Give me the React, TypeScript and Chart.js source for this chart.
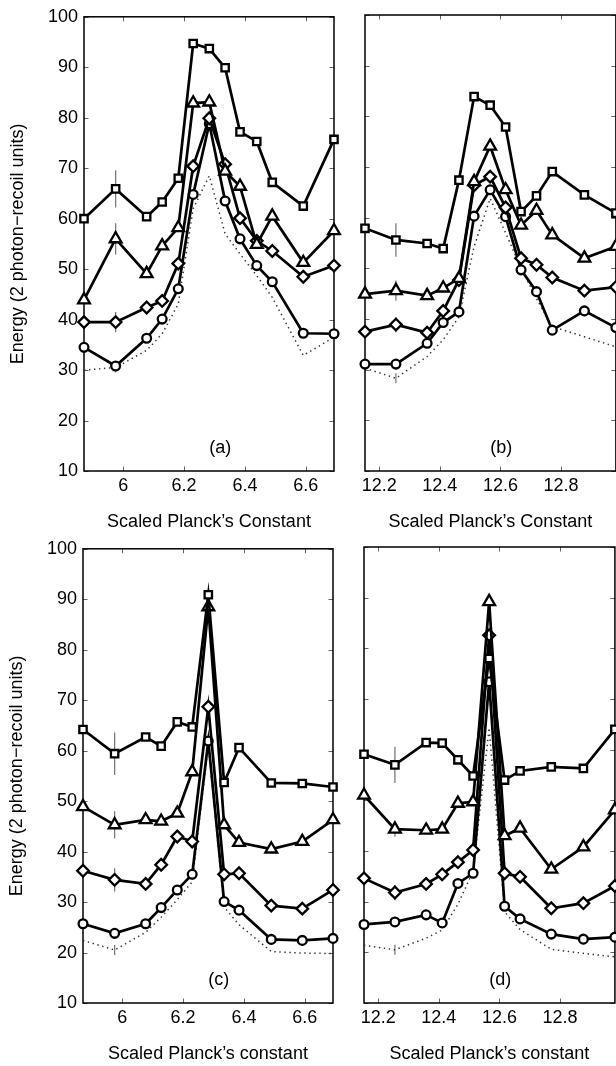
import React, { useEffect, useRef } from "react";
import { Chart, registerables } from "chart.js";

Chart.register(...registerables);

const FONT_FAMILY = "'Liberation Sans', Arial, Helvetica, sans-serif";

// ---------- x positions (scaled Planck's constant) ----------
const X_A = [5.871, 5.975, 6.077, 6.128, 6.181, 6.23, 6.283, 6.335, 6.384, 6.439, 6.49, 6.592, 6.693];
const X_B = [12.153, 12.255, 12.358, 12.411, 12.463, 12.513, 12.566, 12.617, 12.668, 12.719, 12.771, 12.877, 12.981];
const X_C = [5.871, 5.975, 6.077, 6.128, 6.181, 6.23, 6.283, 6.335, 6.384, 6.49, 6.592, 6.693];
const X_D = [12.153, 12.255, 12.358, 12.411, 12.463, 12.513, 12.566, 12.617, 12.668, 12.771, 12.877, 12.981];

// ---------- tick labels ----------
const XTICKS_LOW = [6, 6.2, 6.4, 6.6];
const XTICKS_HIGH = [12.2, 12.4, 12.6, 12.8];
const YTICKS = [10, 20, 30, 40, 50, 60, 70, 80, 90, 100];

// ---------- panel (a) ----------
const A_SQUARE = [60.0, 65.9, 60.4, 63.3, 68.0, 94.7, 93.7, 89.9, 77.2, 75.3, 67.2, 62.5, 75.7];
const A_TRIANGLE = [43.9, 56.0, 49.1, 54.6, 58.2, 82.9, 83.1, 69.4, 66.4, 54.9, 60.5, 51.3, 57.6];
const A_DIAMOND = [39.5, 39.5, 42.4, 43.7, 51.1, 70.4, 79.9, 70.8, 60.1, 55.6, 53.6, 48.5, 50.7];
const A_CIRCLE = [34.5, 30.8, 36.3, 40.1, 46.1, 64.8, 78.8, 63.5, 56.0, 50.7, 47.5, 37.3, 37.2];
const A_DOTTED = [30.0, 30.5, 33.9, 37.2, 43.1, 62.0, 68.5, 57.0, 53.0, 48.7, 44.4, 32.9, 36.5];
const A_ERR = [3.7, 3.1, 2.0, 1.0, 1.0];

// ---------- panel (b) ----------
const B_SQUARE = [57.9, 55.6, 54.9, 53.9, 67.4, 83.9, 82.2, 77.9, 61.2, 64.3, 69.1, 64.5, 60.9];
const B_TRIANGLE = [44.9, 45.6, 44.6, 46.1, 48.0, 67.1, 74.1, 65.5, 58.5, 61.4, 56.6, 52.0, 54.3];
const B_DIAMOND = [37.5, 38.9, 37.3, 41.6, 47.7, 66.4, 68.1, 62.0, 52.0, 50.7, 48.2, 45.6, 46.3];
const B_CIRCLE = [31.1, 31.1, 35.2, 39.3, 41.4, 60.3, 65.5, 60.2, 49.7, 45.4, 37.8, 41.6, 38.3];
const B_DOTTED = [30.3, 28.3, 32.6, 35.9, 40.4, 54.3, 63.8, 57.0, 50.0, 44.0, 38.5, 36.5, 34.5];
const B_ERR = [3.3, 2.0, 1.5, 1.0, 1.0];

// ---------- panel (c) ----------
const C_SQUARE = [64.2, 59.4, 62.7, 60.9, 65.7, 64.7, 90.9, 53.7, 60.6, 53.6, 53.5, 52.8];
const C_TRIANGLE = [48.9, 45.3, 46.3, 46.0, 47.6, 55.8, 88.5, 45.3, 41.8, 40.5, 42.0, 46.3];
const C_DIAMOND = [36.2, 34.4, 33.6, 37.4, 43.0, 42.0, 68.7, 35.5, 35.7, 29.3, 28.7, 32.4];
const C_CIRCLE = [25.7, 23.8, 25.7, 28.9, 32.4, 35.5, 61.9, 30.1, 28.4, 22.6, 22.4, 22.8];
const C_DOTTED = [22.4, 20.5, 24.0, 27.0, 30.5, 34.0, 61.0, 29.0, 25.5, 20.2, 19.9, 19.8];
const C_ERR = [4.2, 2.7, 2.3, 1.0, 1.0];

// ---------- panel (d) ----------
const D_SQUARE = [59.1, 57.0, 61.4, 61.3, 58.0, 54.8, 78.0, 54.0, 55.8, 56.6, 56.3, 64.0];
const D_TRIANGLE = [51.0, 44.3, 44.1, 44.3, 49.4, 49.7, 89.2, 43.0, 44.5, 36.4, 40.8, 48.1];
const D_DIAMOND = [34.6, 31.8, 33.5, 35.4, 37.8, 40.2, 82.6, 35.6, 34.9, 28.7, 29.7, 33.1];
const D_CIRCLE = [25.5, 26.0, 27.4, 25.8, 33.6, 35.6, 73.4, 29.1, 26.6, 23.6, 22.6, 23.0];
const D_DOTTED = [21.4, 20.5, 22.8, 24.4, 29.5, 36.0, 64.3, 28.0, 24.5, 20.6, 19.8, 19.1];
const D_ERR = [3.6, 1.5, 1.5, 1.0, 1.0];

const ERR_INDEX = 1;

const Y_TITLE = "Energy (2 photon\u2212recoil units)";
const X_TITLE_TOP = "Scaled Planck\u2019s Constant";
const X_TITLE_BOTTOM = "Scaled Planck\u2019s constant";

type Panel = {
  x: number[];
  series: number[][];
  errors: number[];
  xTicks: number[];
  label: string;
  labelX: number;
  labelY: number;
  xTitle: string;
  showY: boolean;
};

type Geom = { left: number; top: number; w: number; h: number; padRight: number; yWidth: number };

const PANELS: { panel: Panel; geom: Geom }[] = [
  {
    panel: { x: X_A, series: [A_SQUARE, A_TRIANGLE, A_DIAMOND, A_CIRCLE, A_DOTTED], errors: A_ERR, xTicks: XTICKS_LOW, label: "(a)", labelX: 2 * Math.PI, labelY: 14.6, xTitle: X_TITLE_TOP, showY: true },
    geom: { left: 0, top: 0, w: 345, h: 540, padRight: 11, yWidth: 84 },
  },
  {
    panel: { x: X_B, series: [B_SQUARE, B_TRIANGLE, B_DIAMOND, B_CIRCLE, B_DOTTED], errors: B_ERR, xTicks: XTICKS_HIGH, label: "(b)", labelX: 4 * Math.PI, labelY: 14.6, xTitle: X_TITLE_TOP, showY: false },
    geom: { left: 345, top: 0, w: 280, h: 540, padRight: 9, yWidth: 20 },
  },
  {
    panel: { x: X_C, series: [C_SQUARE, C_TRIANGLE, C_DIAMOND, C_CIRCLE, C_DOTTED], errors: C_ERR, xTicks: XTICKS_LOW, label: "(c)", labelX: 2 * Math.PI, labelY: 14.6, xTitle: X_TITLE_BOTTOM, showY: true },
    geom: { left: -1, top: 532, w: 345, h: 540, padRight: 11, yWidth: 84 },
  },
  {
    panel: { x: X_D, series: [D_SQUARE, D_TRIANGLE, D_DIAMOND, D_CIRCLE, D_DOTTED], errors: D_ERR, xTicks: XTICKS_HIGH, label: "(d)", labelX: 4 * Math.PI, labelY: 14.6, xTitle: X_TITLE_BOTTOM, showY: false },
    geom: { left: 344, top: 532, w: 280, h: 540, padRight: 9, yWidth: 20 },
  },
];

const MARKERS = [
  { pointStyle: "rect", pointRadius: 5.2 },
  { pointStyle: "triangle", pointRadius: 6.8 },
  { pointStyle: "rectRot", pointRadius: 5.8 },
  { pointStyle: "circle", pointRadius: 4.4 },
];

const framePlugin = {
  id: "matlabFrame",
  beforeDatasetsDraw(chart: any, _args: any, opts: any) {
    const { ctx, chartArea } = chart;
    const { left, right, top, bottom } = chartArea;
    const xs = chart.scales.x;
    const ys = chart.scales.y;
    ctx.save();
    // inward ticks on all four sides
    ctx.strokeStyle = "#666";
    ctx.lineWidth = 1;
    const tl = 4.5;
    ctx.beginPath();
    for (const v of YTICKS) {
      const py = Math.round(ys.getPixelForValue(v)) + 0.5;
      ctx.moveTo(left, py);
      ctx.lineTo(left + tl, py);
      ctx.moveTo(right, py);
      ctx.lineTo(right - tl, py);
    }
    for (const v of opts.xTicks) {
      const px = Math.round(xs.getPixelForValue(v)) + 0.5;
      ctx.moveTo(px, top);
      ctx.lineTo(px, top + tl);
      ctx.moveTo(px, bottom);
      ctx.lineTo(px, bottom - tl);
    }
    ctx.stroke();
    // error bars at one x position
    ctx.strokeStyle = "#7a7a7a";
    ctx.lineWidth = 1.3;
    ctx.beginPath();
    opts.series.forEach((s: number[], i: number) => {
      const e = opts.errors[i];
      const v = s[ERR_INDEX];
      const px = xs.getPixelForValue(opts.x[ERR_INDEX]);
      ctx.moveTo(px, ys.getPixelForValue(v - e));
      ctx.lineTo(px, ys.getPixelForValue(v + e));
    });
    ctx.stroke();
    // frame
    ctx.strokeStyle = "#000";
    ctx.lineWidth = 1.5;
    ctx.strokeRect(left, top, right - left, bottom - top);
    ctx.restore();
  },
  afterDatasetsDraw(chart: any, _args: any, opts: any) {
    const { ctx } = chart;
    const xs = chart.scales.x;
    const ys = chart.scales.y;
    ctx.save();
    ctx.fillStyle = "#000";
    ctx.font = `18px ${FONT_FAMILY}`;
    ctx.textAlign = "left";
    ctx.textBaseline = "middle";
    ctx.fillText(opts.label, xs.getPixelForValue(opts.labelX), ys.getPixelForValue(opts.labelY));
    ctx.restore();
  },
};

function makeConfig(panel: Panel, geom: Geom): any {
  const datasets: any[] = panel.series.map((s, i) => {
    const pts = s.map((v, k) => ({ x: panel.x[k], y: v }));
    if (i === 4) {
      return {
        data: pts,
        borderColor: "#333",
        borderWidth: 1.5,
        borderDash: [1.4, 3.6],
        pointRadius: 0,
        tension: 0,
        fill: false,
        clip: false,
      };
    }
    return {
      data: pts,
      borderColor: "#000",
      borderWidth: 2.7,
      pointStyle: MARKERS[i].pointStyle,
      pointRadius: MARKERS[i].pointRadius,
      pointBorderWidth: 2.3,
      pointBorderColor: "#000",
      pointBackgroundColor: "#fff",
      tension: 0,
      fill: false,
      clip: false,
    };
  });
  const font = { family: FONT_FAMILY, size: 18 };
  return {
    type: "line",
    data: { datasets },
    plugins: [framePlugin],
    options: {
      animation: false,
      responsive: false,
      devicePixelRatio: 1,
      events: [],
      layout: { padding: { left: 0, top: 15, right: geom.padRight, bottom: 0 } },
      plugins: {
        legend: { display: false },
        tooltip: { enabled: false },
        matlabFrame: {
          xTicks: panel.xTicks,
          series: panel.series,
          errors: panel.errors,
          x: panel.x,
          label: panel.label,
          labelX: panel.labelX,
          labelY: panel.labelY,
        },
      },
      scales: {
        x: {
          type: "linear",
          min: panel.x[0],
          max: panel.x[panel.x.length - 1],
          afterBuildTicks: (s: any) => {
            s.ticks = panel.xTicks.map((v) => ({ value: v }));
          },
          afterFit: (s: any) => {
            s.height = 69;
          },
          grid: { display: false, drawTicks: false },
          border: { display: false },
          ticks: {
            color: "#000",
            font,
            padding: 4,
            maxRotation: 0,
            autoSkip: false,
            callback: (v: any) => String(Math.round(Number(v) * 10) / 10),
          },
          title: {
            display: true,
            text: panel.xTitle,
            color: "#000",
            font,
            padding: { top: 0, bottom: 7 },
          },
        },
        y: {
          type: "linear",
          min: 10,
          max: 100,
          afterBuildTicks: (s: any) => {
            s.ticks = YTICKS.map((v) => ({ value: v }));
          },
          afterFit: (s: any) => {
            s.width = geom.yWidth;
          },
          grid: { display: false, drawTicks: false },
          border: { display: false },
          ticks: {
            display: panel.showY,
            color: "#000",
            font,
            padding: 6,
            callback: (v: any) => String(v),
          },
          title: {
            display: panel.showY,
            text: Y_TITLE,
            color: "#000",
            font,
            padding: { top: 7, bottom: 0 },
          },
        },
      },
    },
  };
}

function PanelChart({ panel, geom }: { panel: Panel; geom: Geom }) {
  const ref = useRef<HTMLCanvasElement | null>(null);
  useEffect(() => {
    if (!ref.current) return;
    const chart = new Chart(ref.current, makeConfig(panel, geom));
    return () => chart.destroy();
  }, [panel, geom]);
  return (
    <canvas
      ref={ref}
      width={geom.w}
      height={geom.h}
      style={{ position: "absolute", left: geom.left, top: geom.top, width: geom.w, height: geom.h }}
    />
  );
}

export default function App() {
  return (
    <div
      style={{
        position: "fixed",
        left: 0,
        top: 0,
        width: 616,
        height: 1066,
        overflow: "hidden",
        background: "#fff",
      }}
    >
      {PANELS.map((p, i) => (
        <PanelChart key={i} panel={p.panel} geom={p.geom} />
      ))}
    </div>
  );
}
